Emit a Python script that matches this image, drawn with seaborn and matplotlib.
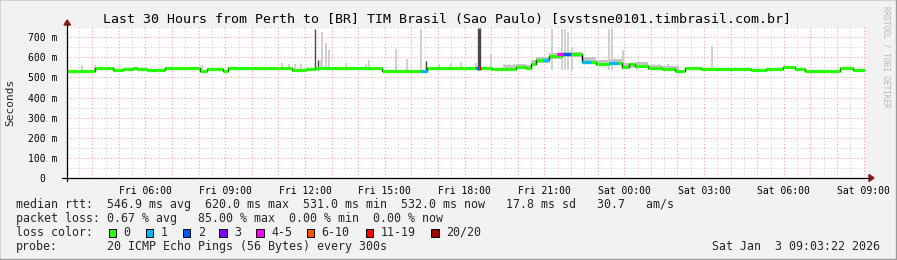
import matplotlib
matplotlib.use("Agg")
import matplotlib.pyplot as plt
import seaborn as sns
import pandas as pd
from matplotlib.lines import Line2D
from matplotlib.patches import Rectangle, Polygon

# ---------------- data (hours since Fri 00:00, values in ms) ----------------
median_hours = [3.05, 4.10, 4.55, 4.77, 5.15, 5.52, 5.67, 6.05, 6.72, 8.04, 8.30, 8.90,
                9.09, 10.10, 11.15, 11.52, 12.05, 12.39, 14.90, 16.59, 16.92, 17.41,
                18.42, 19.03, 19.55, 19.92, 20.30, 20.49, 20.67, 21.16, 21.65, 22.40,
                22.92, 23.41, 23.90, 24.16, 24.42, 24.91, 25.40, 25.92, 26.30, 26.90,
                28.77, 29.33, 29.97, 30.42, 30.80, 32.11, 32.60, 33.05]
median_ms = [533, 545, 548, 537, 543, 547, 543, 535, 548, 533, 543, 533,
             548, 545, 548, 537, 543, 548, 533, 545, 548, 547,
             545, 543, 540, 553, 548, 569, 586, 606, 617, 578,
             569, 574, 553, 569, 559, 545, 543, 533, 545, 540,
             535, 543, 550, 543, 533, 547, 536, 536]

# loss coloured pieces of the median line
loss_start = [16.36, 18.42, 18.52, 20.95, 21.47, 21.70, 22.40, 23.41]
loss_end = [16.59, 18.52, 18.62, 21.16, 21.70, 22.00, 22.75, 23.75]
loss_ms = [533, 545, 545, 586, 617, 617, 578, 574]
loss_level = [1, 2, 6, 1, 4, 2, 1, 1]

loss_labels = ["0", "1", "2", "3", "4-5", "6-10", "11-19", "20/20"]
loss_palette = ["#26ff00", "#00b8ff", "#0059ff", "#7e00ff", "#ff00ff", "#ff5500", "#ff0000", "#a10000"]

# smoke spikes (top of ping distribution)
smoke_hours = [3.61, 4.10, 8.11, 11.15, 11.41, 11.64, 11.86, 12.39, 12.50, 12.57, 12.65,
               12.80, 12.91, 13.55, 14.30, 14.41, 15.42, 15.84, 16.36, 16.55, 17.04,
               17.49, 17.86, 18.42, 18.52, 18.99, 19.47, 19.66, 19.85, 21.27, 21.65,
               21.76, 21.87, 22.02, 23.41, 23.52, 23.97, 24.46, 25.10, 25.29, 25.66, 27.31]
smoke_top = [560, 560, 560, 572, 565, 565, 565, 743, 586, 586, 726,
             669, 636, 572, 565, 586, 644, 591, 743, 580, 565,
             572, 577, 572, 748, 616, 565, 565, 565, 743, 743,
             743, 726, 652, 743, 743, 636, 572, 565, 565, 565, 655]
smoke_dark = [0, 0, 0, 0, 0, 0, 0, 1, 1, 0, 0,
              0, 0, 0, 0, 0, 0, 0, 0, 1, 0,
              0, 0, 0, 1, 0, 0, 0, 0, 0, 0,
              0, 0, 0, 0, 0, 0, 0, 0, 0, 0, 0]

# smoke band during the evening
band_hours = [19.47, 19.92, 20.30, 20.49, 20.67, 21.16, 21.65, 22.40, 22.92, 23.41,
              23.90, 24.42, 24.91, 25.40, 26.04]
band_lo = [538, 545, 542, 555, 570, 590, 600, 565, 555, 560, 545, 548, 538, 538, 538]
band_hi = [560, 565, 560, 585, 600, 620, 625, 600, 585, 590, 570, 575, 560, 555, 555]

tick_hours = [6, 9, 12, 15, 18, 21, 24, 27, 30, 33]
tick_labels = ["Fri 06:00", "Fri 09:00", "Fri 12:00", "Fri 15:00", "Fri 18:00",
               "Fri 21:00", "Sat 00:00", "Sat 03:00", "Sat 06:00", "Sat 09:00"]
ytick_vals = [0, 100, 200, 300, 400, 500, 600, 700]
ytick_labels = ["0  ", "100 m", "200 m", "300 m", "400 m", "500 m", "600 m", "700 m"]

title = "Last 30 Hours from Perth to [BR] TIM Brasil (Sao Paulo) [svstsne0101.timbrasil.com.br]"
rtt_text = "546.9 ms avg  620.0 ms max  531.0 ms min  532.0 ms now   17.8 ms sd   30.7   am/s"
loss_text = "0.67 % avg   85.00 % max  0.00 % min  0.00 % now"
probe_text = "20 ICMP Echo Pings (56 Bytes) every 300s"
date_text = "Sat Jan  3 09:03:22 2026"

# ---------------- figure ----------------
sns.set_style("white")
plt.rcParams["font.family"] = ["DejaVu Sans Mono"]
W, H = 897, 260
fig = plt.figure(figsize=(W / 100, H / 100), dpi=100, facecolor="#f2f2f2")

x0, x1, ytop, ybot = 67, 865, 27, 178
ax = fig.add_axes([x0 / W, 1 - ybot / H, (x1 - x0) / W, (ybot - ytop) / H])
ax.set_facecolor("white")
xmin, xmax = 3.05, 33.05
ymax = 751
ax.set_xlim(xmin, xmax)
ax.set_ylim(0, ymax)
for s in ax.spines.values():
    s.set_visible(False)

# grid
h = 3.5
while h < xmax:
    ax.axvline(h, color="#cfcfcf", lw=0.8, ls=(0, (1, 2)), zorder=0.5)
    h += 1
for hh in range(4, 34):
    ax.axvline(hh, color="#f4a0a0", lw=0.8, ls=(0, (1, 2)), zorder=0.6)
for v in range(50, 751, 100):
    ax.axhline(v, color="#cfcfcf", lw=0.8, ls=(0, (1, 2)), zorder=0.5)
for v in range(100, 751, 100):
    ax.axhline(v, color="#f4a0a0", lw=0.8, ls=(0, (1, 2)), zorder=0.6)

# smoke
ax.fill_between(band_hours, band_lo, band_hi, step="post", color="#c4c4c4", lw=0, zorder=1)
for hx, top, dk in zip(smoke_hours, smoke_top, smoke_dark):
    ax.vlines(hx, 535, top, color="#4a4a4a" if dk else "#cccccc",
              lw=2.4 if (dk and top > 745) else 1.0 if dk else 1.3, zorder=1.2)

# median line: black step connectors, green horizontal runs
df = pd.DataFrame({"hour": median_hours, "ms": median_ms})
sns.lineplot(data=df, x="hour", y="ms", drawstyle="steps-post", color="black", lw=1.0,
             ax=ax, zorder=2)
ax.hlines(median_ms[:-1], median_hours[:-1], median_hours[1:], color=loss_palette[0],
          lw=2.3, zorder=3)
ax.hlines(loss_ms, loss_start, loss_end, color=[loss_palette[i] for i in loss_level],
          lw=2.3, zorder=4)

# ticks
ax.set_xticks(tick_hours)
ax.set_xticklabels(tick_labels)
ax.set_xticks(list(range(4, 34)), minor=True)
ax.set_yticks(ytick_vals)
ax.set_yticklabels(ytick_labels)
ax.tick_params(axis="both", which="major", labelsize=7, colors="black", length=3, width=0.8,
               direction="out", pad=2)
ax.tick_params(axis="x", which="major", length=3, pad=3)
ax.tick_params(axis="x", which="minor", length=2, width=0.8, color="black")
ax.tick_params(axis="y", which="major", pad=4)
ax.set_xlabel("")
ax.set_ylabel("")

# axis lines with arrows
def fx(px):
    return px / W

def fy(py):
    return 1 - py / H

fig.add_artist(Line2D([fx(67), fx(67)], [fy(181), fy(24)], color="black", lw=0.9))
fig.add_artist(Line2D([fx(62), fx(870)], [fy(178), fy(178)], color="black", lw=0.9))
fig.add_artist(Polygon([[fx(64), fy(25)], [fx(70.5), fy(25)], [fx(67.2), fy(20)]],
                       closed=True, color="#8b1a1a"))
fig.add_artist(Polygon([[fx(869), fy(174.5)], [fx(869), fy(181.5)], [fx(874), fy(178)]],
                       closed=True, color="#8b1a1a"))

# texts
fig.text(fx(447), fy(19), title, ha="center", va="center", fontsize=9.5, color="black")
fig.text(fx(10), fy(102), "Seconds", rotation=90, ha="center", va="center", fontsize=8)
fig.text(fx(886), fy(6), "RRDTOOL / TOBI OETIKER", rotation=270, ha="center", va="top",
         fontsize=5.6, color="#b8b8b8")

fs = 8.37
ys = [204.3, 218.3, 232.3, 246.5]
fig.text(fx(16), fy(ys[0]), "median rtt:", ha="left", va="center", fontsize=fs)
fig.text(fx(107), fy(ys[0]), rtt_text, ha="left", va="center", fontsize=fs)
fig.text(fx(16), fy(ys[1]), "packet loss:", ha="left", va="center", fontsize=fs)
fig.text(fx(107), fy(ys[1]), loss_text, ha="left", va="center", fontsize=fs)

fig.text(fx(16), fy(ys[2]), "loss color:", ha="left", va="center", fontsize=fs)
swatch_x = [108.5, 145.7, 182.7, 219.3, 256, 306.7, 365.7, 431]
for sx, col, lab in zip(swatch_x, loss_palette, loss_labels):
    fig.add_artist(Rectangle((fx(sx), fy(236.5)), 7.5 / W, 7.5 / H, facecolor=col,
                             edgecolor="black", lw=0.7))
    fig.text(fx(sx + 15), fy(ys[2]), lab, ha="left", va="center", fontsize=fs)

fig.text(fx(16), fy(ys[3]), "probe:", ha="left", va="center", fontsize=fs)
fig.text(fx(107), fy(ys[3]), probe_text, ha="left", va="center", fontsize=fs)
fig.text(fx(880), fy(ys[3]), date_text, ha="right", va="center", fontsize=fs)

# frame
fig.add_artist(Line2D([0, 0], [0, 1], color="#cccccc", lw=1.2))
fig.add_artist(Line2D([0, 1], [1, 1], color="#cccccc", lw=1.2))
fig.add_artist(Line2D([0, 1], [0, 0], color="#9a9a9a", lw=2.4))
fig.add_artist(Line2D([1, 1], [0, 1], color="#9a9a9a", lw=2.4))

fig.savefig("out.png", dpi=100, facecolor=fig.get_facecolor())
